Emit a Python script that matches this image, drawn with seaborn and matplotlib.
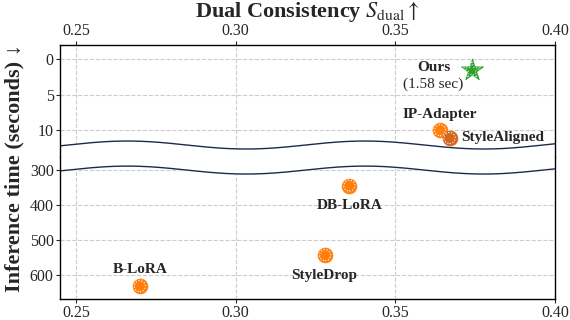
import matplotlib.pyplot as plt
import numpy as np
import pandas as pd
import seaborn as sns

# data
methods = ['Ours', 'IP-Adapter', 'StyleAligned', 'DB-LoRA', 'StyleDrop', 'B-LoRA']
dual_consistency = [0.374, 0.364, 0.367, 0.3356, 0.328, 0.270]
inference_time = [1.58, 10.0, 11.1, 344, 544, 633]
top_yticks = [0, 5, 10]
bottom_yticks = [300, 400, 500, 600]
xticks = [0.25, 0.30, 0.35, 0.40]

sns.set_style("whitegrid", {
    'axes.edgecolor': 'black',
    'grid.color': '#cccccc',
    'grid.linestyle': '--',
    'xtick.bottom': True,
    'ytick.left': True,
})
plt.rcParams['font.family'] = ['Liberation Serif', 'DejaVu Serif']
plt.rcParams['mathtext.fontset'] = 'stix'
plt.rcParams['axes.linewidth'] = 1.0
plt.rcParams['grid.linewidth'] = 0.8

df = pd.DataFrame({'method': methods, 'x': dual_consistency, 'y': inference_time})

W, H = 570, 320
fig = plt.figure(figsize=(W / 100, H / 100), dpi=100)
left, right = 60 / W, 555 / W
ax_top = fig.add_axes([left, 1 - 157 / H, right - left, 112 / H])
ax_bot = fig.add_axes([left, 1 - 299 / H, right - left, 142 / H])

colors = {'Ours': '#2ca02c', 'StyleAligned': '#d4671e'}
orange = '#ff7f0e'

for ax in (ax_top, ax_bot):
    for _, r in df.iterrows():
        c = colors.get(r['method'], orange)
        marker = '*' if r['method'] == 'Ours' else 'o'
        size = 280 if marker == '*' else 115
        sns.scatterplot(x=[r['x']], y=[r['y']], ax=ax, s=size, marker=marker,
                        color=c, edgecolor=c, linewidth=0.5, zorder=4)
        sns.scatterplot(x=[r['x']], y=[r['y']], ax=ax, s=size * 0.55, marker=marker,
                        color=c, edgecolor='#dff5df' if marker == '*' else 'white',
                        linewidth=0.8, linestyle=':', zorder=5)
    ax.set_xlim(0.245, 0.40)
    ax.set_xticks(xticks)
    ax.set_xticklabels([f'{t:.2f}' for t in xticks])
    ax.set_xlabel('')
    ax.set_ylabel('')
    ax.tick_params(axis='both', labelsize=11.5, length=3, width=0.8, direction='out', pad=1.5)
    ax.grid(True)

ax_top.set_ylim(13.77, -2)
ax_top.set_yticks(top_yticks)
ax_top.xaxis.tick_top()
ax_top.spines['bottom'].set_visible(False)

ax_bot.set_ylim(670, 262)
ax_bot.set_yticks(bottom_yticks)
ax_bot.spines['top'].set_visible(False)

# wavy break between the two panels
xs = np.linspace(0, 1, 300)
wave = np.cos(2 * np.pi * (xs - 0.136) / 0.48)
navy = '#1c2a4a'
up = 0.107 + 0.0357 * wave
ax_top.fill_between(xs, -0.02, up, color='white', transform=ax_top.transAxes, zorder=2.2)
ax_top.plot(xs, up, color=navy, lw=1.0, transform=ax_top.transAxes, zorder=2.3)
lo = 0.908 + 0.028 * wave
ax_bot.fill_between(xs, lo, 1.02, color='white', transform=ax_bot.transAxes, zorder=2.2)
ax_bot.plot(xs, lo, color=navy, lw=1.0, transform=ax_bot.transAxes, zorder=2.3)

# point labels
bold = dict(fontsize=11, fontweight='bold', textcoords='offset pixels', zorder=6)
ax_top.annotate('Ours', (dual_consistency[0], inference_time[0]), xytext=(-38, 3),
                ha='center', va='center', **bold)
ax_top.annotate('(1.58 sec)', (dual_consistency[0], inference_time[0]), xytext=(-39, -14),
                ha='center', va='center', fontsize=11, textcoords='offset pixels')
ax_top.annotate('IP-Adapter', (dual_consistency[1], inference_time[1]), xytext=(0, 16),
                ha='center', va='center', **bold)
ax_top.annotate('StyleAligned', (dual_consistency[2], inference_time[2]), xytext=(12, 1),
                ha='left', va='center', **bold)
ax_bot.annotate('DB-LoRA', (dual_consistency[3], inference_time[3]), xytext=(0, -20),
                ha='center', va='center', **bold)
ax_bot.annotate('StyleDrop', (dual_consistency[4], inference_time[4]), xytext=(-1, -20),
                ha='center', va='center', **bold)
ax_bot.annotate('B-LoRA', (dual_consistency[5], inference_time[5]), xytext=(0, 17),
                ha='center', va='center', **bold)

fig.text((left + right) / 2, 1 - 12 / H, r'Dual Consistency $S_{\mathrm{dual}}\uparrow$',
         ha='center', va='center', fontsize=16, fontweight='bold')
fig.text(14 / W, 1 - 168 / H, 'Inference time (seconds) ↓', rotation=90,
         ha='center', va='center', fontsize=16, fontweight='bold')

fig.savefig('out.png', dpi=100)
